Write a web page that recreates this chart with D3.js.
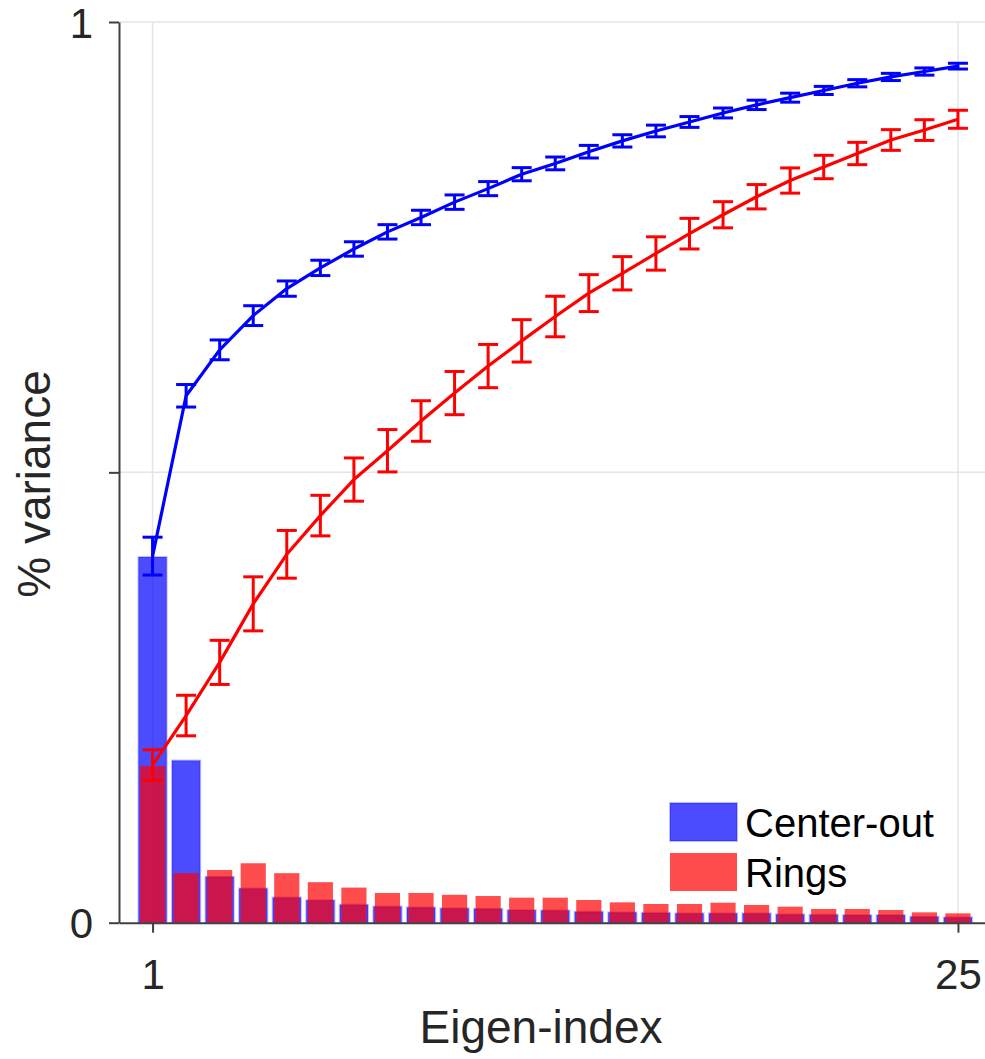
<!DOCTYPE html>
<html><head><meta charset="utf-8">
<script src="https://cdn.jsdelivr.net/npm/d3@7"></script>
<style>body{margin:0;background:#fff} svg{display:block}</style>
</head><body><svg id="c" width="985" height="1059"></svg>
<script>
const indices = d3.range(1, 26);
const centerOutBars = [0.406,0.180,0.051,0.038,0.028,0.025,0.020,0.018,0.017,0.016,0.0155,0.014,0.0137,0.0122,0.0115,0.011,0.0104,0.0104,0.0104,0.0093,0.0089,0.0085,0.0085,0.0067,0.006];
const ringsBars = [0.174,0.055,0.0585,0.066,0.055,0.045,0.039,0.033,0.033,0.031,0.0296,0.0278,0.0278,0.0252,0.0226,0.0208,0.0208,0.0222,0.0197,0.0178,0.0152,0.0152,0.0141,0.0115,0.0104];
const centerOutCum = [0.407,0.585,0.636,0.674,0.704,0.727,0.748,0.767,0.783,0.800,0.815,0.831,0.843,0.856,0.868,0.879,0.889,0.899,0.908,0.916,0.924,0.932,0.939,0.945,0.951];
const centerOutErr = [0.021,0.0125,0.011,0.011,0.0085,0.0085,0.008,0.008,0.008,0.008,0.0078,0.0073,0.0071,0.007,0.0068,0.0065,0.006,0.0055,0.0052,0.005,0.0045,0.004,0.004,0.004,0.0032];
const ringsCum = [0.175,0.230,0.289,0.354,0.409,0.452,0.492,0.524,0.557,0.588,0.618,0.646,0.673,0.699,0.721,0.743,0.765,0.786,0.806,0.824,0.839,0.854,0.869,0.880,0.892];
const ringsErr = [0.017,0.0225,0.0245,0.030,0.0265,0.0225,0.024,0.0235,0.0225,0.024,0.024,0.0235,0.0225,0.0205,0.0185,0.0185,0.017,0.0145,0.0135,0.014,0.013,0.0124,0.0115,0.0115,0.010];
const yTicks = [0, 0.5, 1];
const yTickLabels = ["0", "", "1"];
const xTicks = [1, 25];
const xTickLabels = ["1", "25"];
const seriesNames = ["Center-out", "Rings"];
const xLabel = "Eigen-index";
const yLabel = "% variance";

const svg = d3.select("#c");
const x = d3.scaleLinear().domain([0, 26]).range([119, 991.5]);
const y = d3.scaleLinear().domain([0, 1]).range([922.7, 22]);
const step = x(2) - x(1);
const axisCol = "#404040", textCol = "#262626", gridCol = "#e5e5e5";
const font = "'Liberation Sans', Arial, Helvetica, sans-serif";

// grid
const grid = svg.append("g");
grid.selectAll("line.gy").data(yTicks.filter(d => d > 0)).enter().append("line")
  .attr("x1", x(0)).attr("x2", 985).attr("y1", d => y(d)).attr("y2", d => y(d))
  .attr("stroke", gridCol).attr("stroke-width", 1.5);
grid.selectAll("line.gx").data(xTicks).enter().append("line")
  .attr("x1", d => x(d)).attr("x2", d => x(d)).attr("y1", y(1)).attr("y2", y(0))
  .attr("stroke", gridCol).attr("stroke-width", 1.5);

// bars
const data = indices.map((d, i) => ({i: d, b: centerOutBars[i], r: ringsBars[i],
  bc: centerOutCum[i], be: centerOutErr[i], rc: ringsCum[i], re: ringsErr[i]}));
const bw = step * 0.84, rw = step * 0.75;
svg.append("g").selectAll("rect").data(data).enter().append("rect")
  .attr("x", d => x(d.i) - bw / 2).attr("width", bw)
  .attr("y", d => y(d.b)).attr("height", d => y(0) - y(d.b))
  .attr("fill", "rgba(0,0,255,0.7)").attr("stroke", "rgba(0,0,255,0.25)").attr("stroke-width", 2);
svg.append("g").selectAll("rect").data(data).enter().append("rect")
  .attr("x", d => x(d.i) - rw / 2).attr("width", rw)
  .attr("y", d => y(d.r)).attr("height", d => y(0) - y(d.r))
  .attr("fill", "rgba(255,0,0,0.7)");

// axes
const yAxis = d3.axisLeft(y).tickValues(yTicks).tickFormat((d, i) => yTickLabels[i]).tickSize(10).tickPadding(16).tickSizeOuter(0);
const gy = svg.append("g").attr("transform", `translate(${x(0)},0)`).call(yAxis);
const xAxis = d3.axisBottom(x).tickValues(xTicks).tickFormat((d, i) => xTickLabels[i]).tickSize(10).tickPadding(26).tickSizeOuter(0);
const gx = svg.append("g").attr("transform", `translate(0,${y(0)})`).call(xAxis);
[gx, gy].forEach(g => {
  g.select(".domain").attr("stroke", axisCol).attr("stroke-width", 2);
  g.selectAll(".tick line").attr("stroke", axisCol).attr("stroke-width", 2);
  g.selectAll(".tick text").attr("fill", textCol).style("font-family", font).style("font-size", "42px");
});
gy.selectAll(".tick text").attr("dy", "0.36em");
gx.selectAll(".tick text").attr("dy", "0.71em");

// curves
function drawSeries(key, errKey, col) {
  const g = svg.append("g");
  g.append("path").datum(data)
    .attr("d", d3.line().x(d => x(d.i)).y(d => y(d[key])))
    .attr("fill", "none").attr("stroke", col).attr("stroke-width", 3.2).attr("stroke-linejoin", "round");
  const eb = g.selectAll("g.eb").data(data).enter().append("g");
  const cw = 10;
  eb.append("line").attr("x1", d => x(d.i)).attr("x2", d => x(d.i))
    .attr("y1", d => y(d[key] - d[errKey])).attr("y2", d => y(d[key] + d[errKey]))
    .attr("stroke", col).attr("stroke-width", 3);
  eb.append("line").attr("x1", d => x(d.i) - cw).attr("x2", d => x(d.i) + cw)
    .attr("y1", d => y(d[key] - d[errKey])).attr("y2", d => y(d[key] - d[errKey]))
    .attr("stroke", col).attr("stroke-width", 3);
  eb.append("line").attr("x1", d => x(d.i) - cw).attr("x2", d => x(d.i) + cw)
    .attr("y1", d => y(d[key] + d[errKey])).attr("y2", d => y(d[key] + d[errKey]))
    .attr("stroke", col).attr("stroke-width", 3);
}
drawSeries("rc", "re", "#ff0000");
drawSeries("bc", "be", "#0000ff");

// legend
const legCols = ["rgba(0,0,255,0.7)", "rgba(255,0,0,0.7)"];
const leg = svg.append("g").attr("transform", "translate(670,803)");
seriesNames.forEach((n, i) => {
  leg.append("rect").attr("x", 0).attr("y", i * 50).attr("width", 67).attr("height", 38)
    .attr("fill", legCols[i]).attr("stroke", i === 0 ? "rgba(0,0,255,0.25)" : "none").attr("stroke-width", 2);
  leg.append("text").attr("x", 75).attr("y", i * 50 + 34).text(n)
    .attr("fill", "#000").style("font-family", font).style("font-size", "40px");
});

// axis labels
svg.append("text").attr("x", 541).attr("y", 1043).attr("text-anchor", "middle").text(xLabel)
  .attr("fill", textCol).style("font-family", font).style("font-size", "46px");
svg.append("text").attr("transform", "translate(50,484) rotate(-90)").attr("text-anchor", "middle").text(yLabel)
  .attr("fill", textCol).style("font-family", font).style("font-size", "46px");
</script></body></html>
